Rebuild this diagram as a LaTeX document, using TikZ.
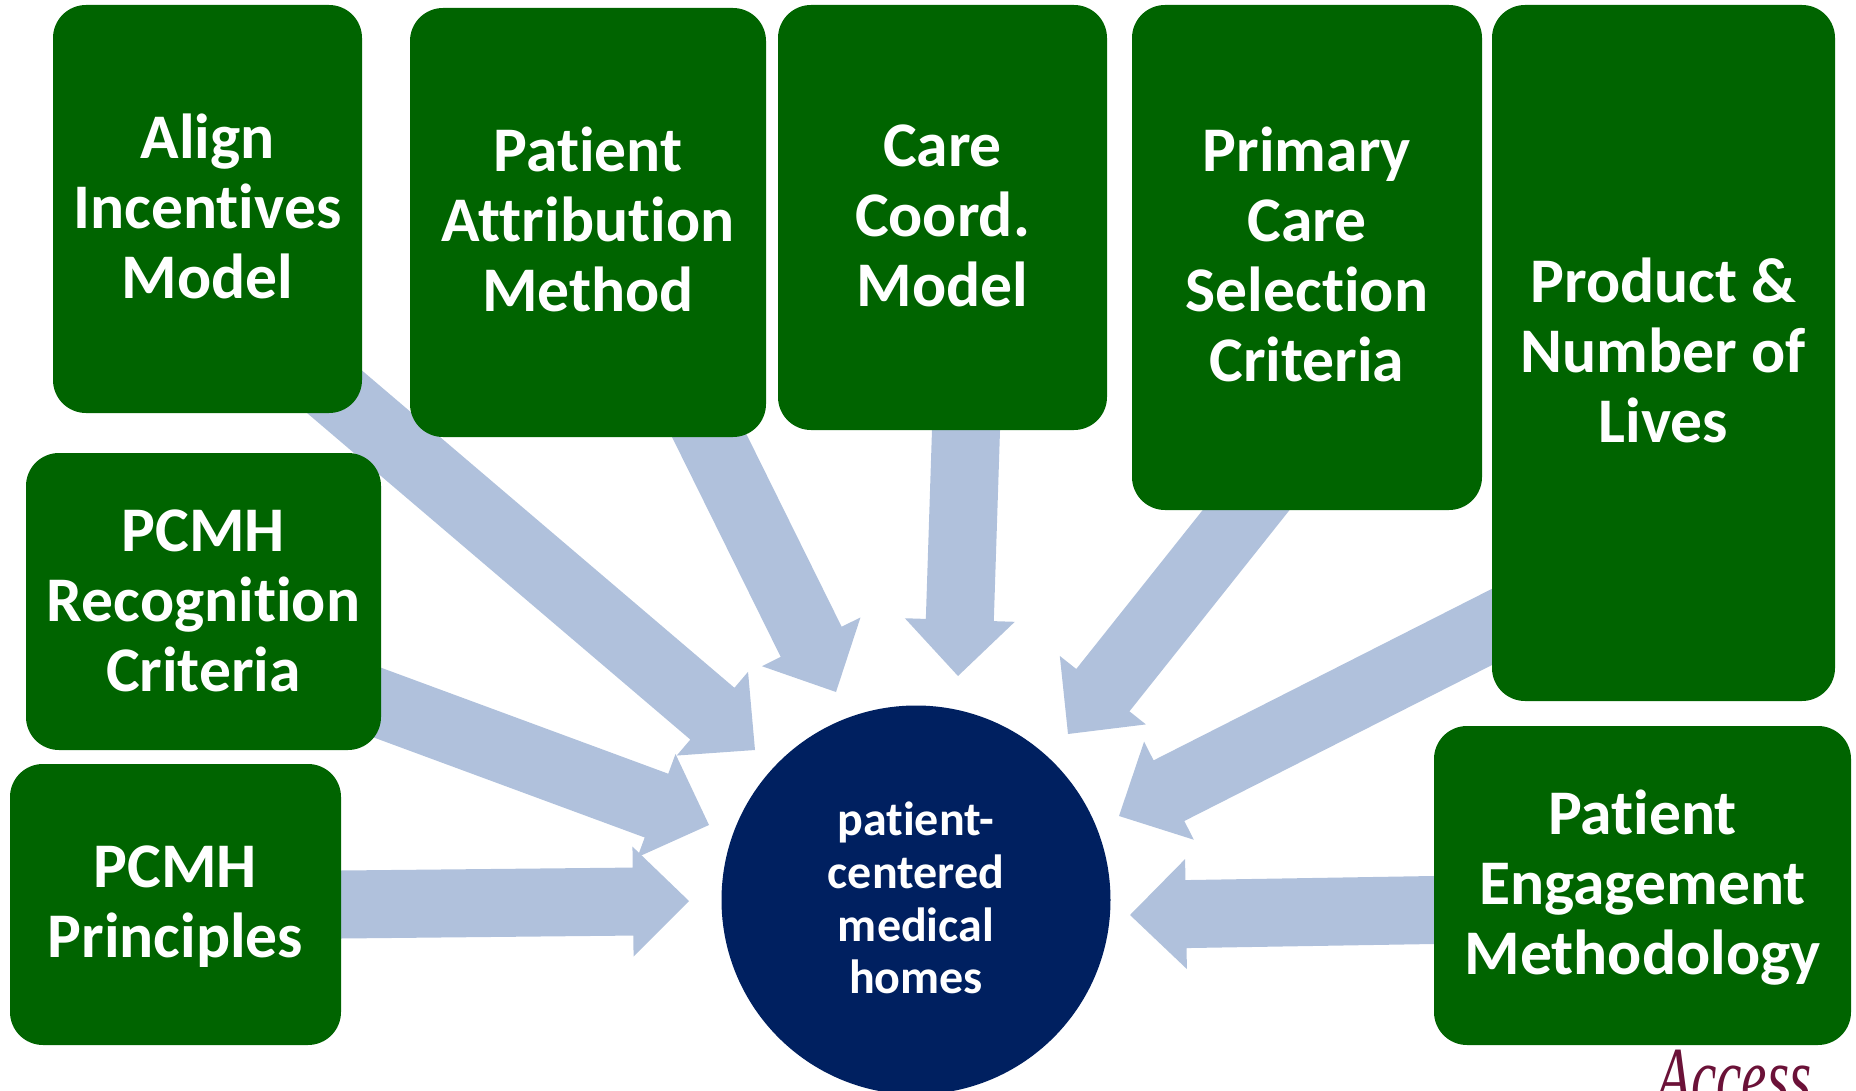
\documentclass[tikz,border=0pt]{standalone}
\usepackage{fontspec}
\setmainfont[Ligatures=NoCommon]{Carlito}
\newfontfamily\logofont{Liberation Serif}
\usetikzlibrary{calc,backgrounds}
\definecolor{boxgreen}{HTML}{006400}
\definecolor{hubnavy}{HTML}{002060}
\definecolor{flowblue}{HTML}{B0C1DC}
\definecolor{logomaroon}{HTML}{6B1238}
\tikzset{
  box/.style={fill=boxgreen,rounded corners=33pt,inner sep=0pt},
  boxtext/.style={text=white,align=center,inner sep=0pt,
    font=\fontsize{63.6}{70}\selectfont\bfseries},
  hub/.style={circle,fill=hubnavy,inner sep=0pt,minimum size=389pt},
  hubtext/.style={text=white,align=center,inner sep=0pt,
    font=\fontsize{48}{52.7}\selectfont\bfseries},
  flow/.style={fill=flowblue,draw=none},
  logo/.style={text=logomaroon,inner sep=0pt,anchor=base west,font=\fontsize{84}{84}\selectfont\logofont\itshape}
}
\newcommand\blockarrow[2]{%
  \coordinate (H) at ($(#2)!56pt!(#1)$);
  \coordinate (S) at ($(#1)!-40pt!(#2)$);
  \fill[flow] ($(S)!34pt!90:(#2)$) -- ($(H)!34pt!90:(#2)$) -- ($(H)!55pt!90:(#2)$) -- (#2)
    -- ($(H)!55pt!-90:(#2)$) -- ($(H)!34pt!-90:(#2)$) -- ($(S)!34pt!-90:(#2)$) -- cycle;
}
\begin{document}
\begin{tikzpicture}[x=1pt,y=-1pt]
\useasboundingbox (0,0) rectangle (1856,1091);
\clip (0,0) rectangle (1856,1091);
\node[box,minimum width=309pt,minimum height=408pt] (align) at (207.5,209) {};
\node[boxtext] (alignT) at ($(align)+(0,-3)$) {Align\\Incentives\\Model};
\node[box,minimum width=356pt,minimum height=429pt] (attr) at (588,222.5) {};
\node[boxtext] (attrT) at ($(attr)+(0,-3)$) {Patient\\Attribution\\Method};
\node[box,minimum width=329pt,minimum height=425pt] (care) at (942.5,217.5) {};
\node[boxtext] (careT) at ($(care)+(0,-2)$) {Care\\Coord.\\Model};
\node[box,minimum width=350pt,minimum height=505pt] (primary) at (1307,257.5) {};
\node[boxtext] (primaryT) at ($(primary)+(0,-3)$) {Primary\\Care\\Selection\\Criteria};
\node[box,minimum width=343pt,minimum height=696pt] (product) at (1663.5,353) {};
\node[boxtext] (productT) at ($(product)+(0,-3)$) {Product \&\\Number of\\Lives};
\node[box,minimum width=417pt,minimum height=319pt] (eng) at (1642.5,885.5) {};
\node[boxtext] (engT) at ($(eng)+(0,2)$) {Patient\\Engagement\\Methodology};
\node[box,minimum width=355pt,minimum height=297pt] (rec) at (203.5,601.5) {};
\node[boxtext] (recT) at ($(rec)+(0,-1)$) {PCMH\\Recognition\\Criteria};
\node[box,minimum width=331pt,minimum height=281pt] (princ) at (175.5,904.5) {};
\node[boxtext] (princT) at ($(princ)+(0,2.5)$) {PCMH\\Principles};
\node[hub] (hub) at (916,900) {};
\node[hubtext] (hubT) at ($(hub)+(0,-2)$) {patient-\\centered\\medical\\homes};
\node[logo] (access) at (1656,1105) {\scalebox{.68}[1]{Access}};
\coordinate (tAlign) at (755,750);
\coordinate (tAttr) at (836,692);
\coordinate (tCare) at (958,676);
\coordinate (tPrimary) at (1068,734);
\coordinate (tProduct) at (1119,816);
\coordinate (tEng) at (1130,915);
\coordinate (tPrinc) at (689,901);
\coordinate (tRec) at (709,825);
\coordinate (sAlign) at ($(align.south east)+(-26,-20)$);
\coordinate (sAttr) at ($(attr.south)+(122,0)$);
\coordinate (sCare) at ($(care.south)+(23.5,0)$);
\coordinate (sPrimary) at ($(primary.south)+(-61,0)$);
\coordinate (sProduct) at ($(product.west)+(0,274)$);
\coordinate (sEng) at ($(eng.west)+(0,24.5)$);
\coordinate (sRec) at ($(rec.east)+(0,102.5)$);
\begin{scope}[on background layer]
\blockarrow{sAlign}{tAlign}
\blockarrow{sAttr}{tAttr}
\blockarrow{sCare}{tCare}
\blockarrow{sPrimary}{tPrimary}
\blockarrow{sProduct}{tProduct}
\blockarrow{sEng}{tEng}
\blockarrow{princ.east}{tPrinc}
\blockarrow{sRec}{tRec}
\end{scope}
\end{tikzpicture}
\end{document}
